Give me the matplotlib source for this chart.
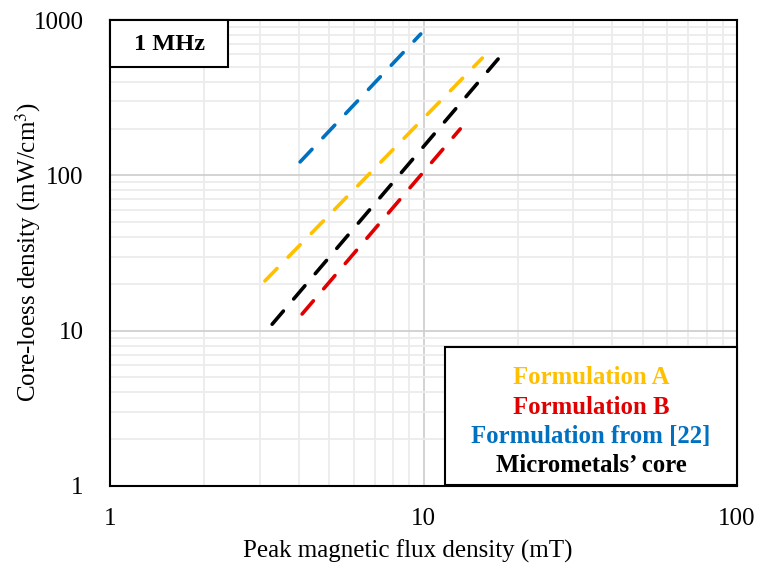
import matplotlib
matplotlib.use("Agg")
import matplotlib.pyplot as plt
from matplotlib.ticker import LogLocator, FixedLocator, NullFormatter
from matplotlib.patches import Rectangle

plt.rcParams['font.family'] = ['Liberation Serif', 'DejaVu Serif']
plt.rcParams['mathtext.fontset'] = 'stix'

# Data (endpoints of straight lines on log-log axes)
series_names = ["Formulation A", "Formulation B", "Formulation from [22]", "Micrometals\u2019 core"]
series_colors = ["#FFC000", "#E00000", "#0070C0", "#000000"]
x_A = [3.12, 15.4]
y_A = [20.9, 569]
x_B = [4.10, 13.1]
y_B = [12.8, 199]
x_22 = [4.04, 9.8]
y_22 = [122, 813]
x_M = [3.29, 17.3]
y_M = [11.0, 561]
xs = [x_A, x_B, x_22, x_M]
ys = [y_A, y_B, y_22, y_M]

x_ticks = [1, 10, 100]
y_ticks = [1, 10, 100, 1000]

fig = plt.figure(figsize=(7.61, 5.74), dpi=100)
ax = fig.add_axes([110/761, 1-486/574, (737-110)/761, (486-20)/574])
ax.set_xscale('log')
ax.set_yscale('log')
ax.set_xlim(1, 100)
ax.set_ylim(1, 1000)

ax.xaxis.set_major_locator(FixedLocator(x_ticks))
ax.yaxis.set_major_locator(FixedLocator(y_ticks))
ax.set_xticklabels([str(t) for t in x_ticks])
ax.set_yticklabels([str(t) for t in y_ticks])
ax.xaxis.set_minor_locator(LogLocator(base=10, subs=range(2, 10)))
ax.yaxis.set_minor_locator(LogLocator(base=10, subs=range(2, 10)))
ax.xaxis.set_minor_formatter(NullFormatter())
ax.yaxis.set_minor_formatter(NullFormatter())

ax.grid(which='major', color='#d0d0d0', linewidth=1.3)
ax.grid(which='minor', color='#ececec', linewidth=1.3)
ax.set_axisbelow(True)
ax.tick_params(which='both', length=0)
ax.tick_params(axis='y', pad=19, labelsize=18)
ax.tick_params(axis='x', pad=16, labelsize=18)

for s in ax.spines.values():
    s.set_linewidth(1.5)
    s.set_color('black')

for x, y, c in zip(xs, ys, series_colors):
    ln, = ax.plot(x, y, color=c, linewidth=2.6, solid_capstyle='round',
                  dash_capstyle='round')
    ln.set_dashes((4.8, 4.4))

fig.text(408/761, 1-551/574, "Peak magnetic flux density (mT)", fontsize=18,
         ha='center', va='center')
fig.text(28/761, 1-252/574, "Core-loess density (mW/cm$^{3}$)", fontsize=18,
         ha='center', va='center', rotation=90)

# "1 MHz" box
fig.patches.append(Rectangle((110/761, 1-67/574), (228-110)/761, (67-20)/574,
                             transform=fig.transFigure, fill=True, facecolor='white',
                             edgecolor='black', linewidth=1.5, zorder=2))
fig.text(170/761, 1-45/574, "1 MHz", fontsize=17.5,
         fontweight='bold', ha='center', va='center', zorder=5)

# Legend box
fig.patches.append(Rectangle((445/761, 1-485/574), (737-445)/761, (485-347)/574,
                             transform=fig.transFigure, fill=True, facecolor='white',
                             edgecolor='black', linewidth=1.5, zorder=2))
leg_y = [377, 407, 437, 466]
for name, c, yy in zip(series_names, series_colors, leg_y):
    fig.text(591/761, 1-yy/574, name, color=c, fontsize=17.8, fontweight='bold',
             ha='center', va='center', zorder=5)

fig.savefig("out.png", dpi=100)
